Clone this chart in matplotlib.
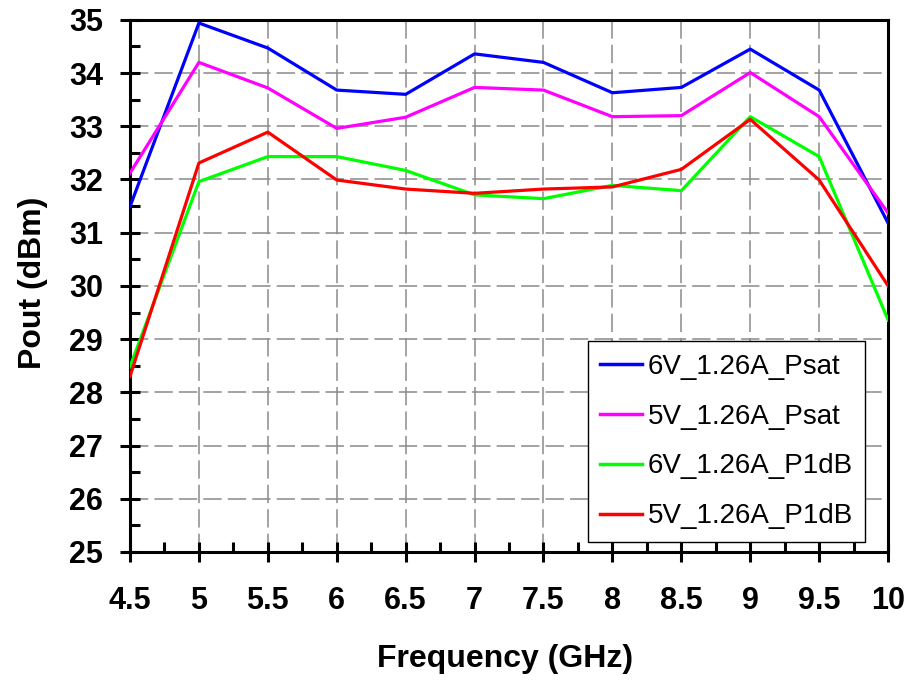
import numpy as np
import matplotlib
matplotlib.use('Agg')
import matplotlib.pyplot as plt
from matplotlib.ticker import MultipleLocator, FuncFormatter

plt.rcParams.update({
    'font.family': ['Liberation Sans', 'DejaVu Sans'],
    'font.weight': 'bold',
})

# Output power vs frequency for two supply settings
freq = [4.5, 5, 5.5, 6, 6.5, 7, 7.5, 8, 8.5, 9, 9.5, 10]
psat_6v = [31.49, 34.94, 34.47, 33.68, 33.60, 34.36, 34.20, 33.63, 33.73, 34.45, 33.68, 31.18]
psat_5v = [32.12, 34.20, 33.72, 32.96, 33.17, 33.73, 33.68, 33.18, 33.20, 34.01, 33.18, 31.37]
p1db_6v = [28.48, 31.96, 32.43, 32.43, 32.17, 31.71, 31.64, 31.89, 31.79, 33.18, 32.43, 29.36]
p1db_5v = [28.30, 32.31, 32.89, 31.99, 31.82, 31.74, 31.82, 31.86, 32.19, 33.13, 31.99, 30.00]

labels = ['6V_1.26A_Psat', '5V_1.26A_Psat', '6V_1.26A_P1dB', '5V_1.26A_P1dB']
colors = ['#0000FF', '#FF00FF', '#00FF00', '#FF0000']

fig = plt.figure(figsize=(9.09, 6.84), dpi=100)
ax = fig.add_axes([0.143, 0.193, 0.834, 0.778])

for ys, lab, col in zip([psat_6v, psat_5v, p1db_6v, p1db_5v], labels, colors):
    ax.plot(freq, ys, color=col, lw=2.3, label=lab, zorder=3)

ax.set_xlim(4.5, 10)
ax.set_ylim(25, 35)
ax.xaxis.set_major_locator(MultipleLocator(0.5))
ax.xaxis.set_minor_locator(MultipleLocator(0.25))
ax.yaxis.set_major_locator(MultipleLocator(1))
ax.yaxis.set_minor_locator(MultipleLocator(0.5))
ax.xaxis.set_major_formatter(FuncFormatter(lambda v, p: f'{v:g}'))

ax.grid(True, which='major', color='#8a8a8a', lw=1.1, ls=(0, (12, 4)), zorder=1)

for sp in ax.spines.values():
    sp.set_linewidth(2.2)
    sp.set_color('black')

ax.tick_params(which='major', direction='inout', length=15, width=2.2,
               labelsize=22, top=False, right=False)
ax.tick_params(axis='x', which='major', pad=17)
ax.tick_params(axis='y', which='major', pad=12)
ax.tick_params(which='minor', direction='in', length=7, width=2.2,
               top=False, right=False)
for t in ax.get_xticklabels() + ax.get_yticklabels():
    t.set_fontweight('bold')

ax.set_xlabel('Frequency (GHz)', fontsize=23, fontweight='bold')
ax.set_ylabel('Pout (dBm)', fontsize=23, fontweight='bold')
ax.xaxis.set_label_coords(0.495, -0.172)
ax.yaxis.set_label_coords(-0.108, 0.505)

leg = ax.legend(loc='lower right', bbox_to_anchor=(0.970, 0.019),
                borderaxespad=0,
                prop={'size': 20, 'weight': 'normal'}, fancybox=False,
                framealpha=1, edgecolor='black', handlelength=1.5,
                handletextpad=0.2, labelspacing=0.86, borderpad=0.45)
leg.get_frame().set_linewidth(1.0)
for line in leg.get_lines():
    line.set_linewidth(2.5)

fig.savefig('out.png', dpi=100, facecolor='white')
